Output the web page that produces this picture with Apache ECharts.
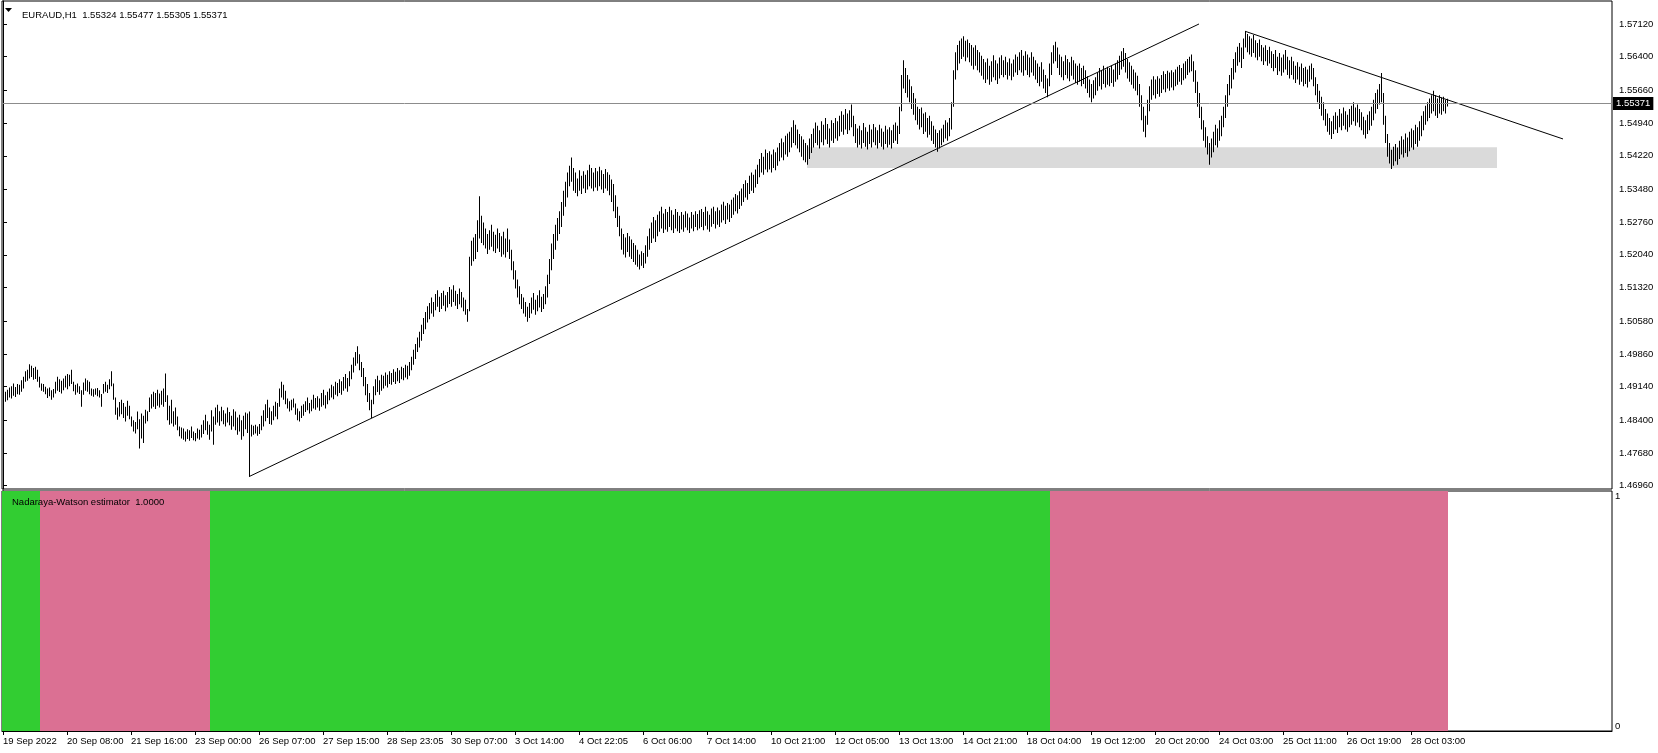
<!DOCTYPE html>
<html><head><meta charset="utf-8">
<script src="https://cdn.jsdelivr.net/npm/echarts@6/dist/echarts.min.js"></script>
<style>html,body{margin:0;padding:0;background:#fff}#c{width:1658px;height:753px}</style>
</head><body><div id="c"></div>
<script>
const symbolTitle = 'EURAUD,H1  1.55324 1.55477 1.55305 1.55371';
const indicatorTitle = 'Nadaraya-Watson estimator  1.0000';
const lastPrice = 1.55371;
const priceTicks = [1.57120,1.56400,1.55660,1.54940,1.54220,1.53480,1.52760,1.52040,1.51320,1.50580,1.49860,1.49140,1.48400,1.47680,1.46960];
const priceTickLabels = ['1.57120','1.56400','1.55660','1.54940','1.54220','1.53480','1.52760','1.52040','1.51320','1.50580','1.49860','1.49140','1.48400','1.47680','1.46960'];
const timeTickIndex = [0,32,64,96,128,160,192,224,256,288,320,352,384,416,448,480,512,544,576,608,640,672,704];
const timeTickLabels = ['19 Sep 2022','20 Sep 08:00','21 Sep 16:00','23 Sep 00:00','26 Sep 07:00','27 Sep 15:00','28 Sep 23:05','30 Sep 07:00','3 Oct 14:00','4 Oct 22:05','6 Oct 06:00','7 Oct 14:00','10 Oct 21:00','12 Oct 05:00','13 Oct 13:00','14 Oct 21:00','18 Oct 04:00','19 Oct 12:00','20 Oct 20:00','24 Oct 03:00','25 Oct 11:00','26 Oct 19:00','28 Oct 03:00'];

const barLow = [
1.4885,1.4881,1.4884,1.4890,1.4888,1.4894,1.4891,1.4897,1.4896,1.4903,
1.4910,1.4925,1.4927,1.4932,1.4935,1.4929,1.4931,1.4925,1.4912,1.4905,
1.4903,1.4897,1.4889,1.4893,1.4885,1.4890,1.4899,1.4905,1.4902,1.4899,
1.4906,1.4912,1.4908,1.4915,1.4920,1.4904,1.4896,1.4901,1.4898,1.4870,
1.4896,1.4905,1.4903,1.4897,1.4894,1.4892,1.4896,1.4893,1.4890,1.4870,
1.4899,1.4903,1.4900,1.4908,1.4915,1.4885,1.4852,1.4841,1.4848,1.4853,
1.4845,1.4837,1.4850,1.4842,1.4826,1.4815,1.4811,1.4820,1.4778,1.4800,
1.4790,1.4833,1.4838,1.4858,1.4866,1.4870,1.4865,1.4872,1.4868,1.4874,
1.4870,1.4880,1.4840,1.4830,1.4833,1.4826,1.4830,1.4818,1.4805,1.4800,
1.4797,1.4793,1.4799,1.4795,1.4801,1.4796,1.4794,1.4800,1.4797,1.4802,
1.4810,1.4818,1.4808,1.4797,1.4815,1.4786,1.4830,1.4835,1.4828,1.4838,
1.4831,1.4826,1.4835,1.4829,1.4819,1.4826,1.4818,1.4808,1.4815,1.4797,
1.4805,1.4820,1.4812,1.4716,1.4804,1.4808,1.4811,1.4806,1.4810,1.4818,
1.4826,1.4838,1.4845,1.4832,1.4830,1.4840,1.4848,1.4842,1.4870,1.4890,
1.4885,1.4875,1.4866,1.4859,1.4862,1.4868,1.4852,1.4840,1.4837,1.4845,
1.4850,1.4858,1.4862,1.4855,1.4860,1.4866,1.4863,1.4868,1.4861,1.4870,
1.4873,1.4866,1.4875,1.4884,1.4890,1.4886,1.4896,1.4893,1.4900,1.4896,
1.4905,1.4910,1.4903,1.4915,1.4930,1.4945,1.4960,1.4965,1.4950,1.4935,
1.4915,1.4895,1.4880,1.4862,1.4845,1.4875,1.4895,1.4902,1.4896,1.4905,
1.4910,1.4916,1.4912,1.4920,1.4918,1.4924,1.4920,1.4926,1.4922,1.4930,
1.4928,1.4934,1.4930,1.4938,1.4950,1.4962,1.4975,1.4990,1.5000,1.5015,
1.5030,1.5040,1.5055,1.5062,1.5075,1.5068,1.5082,1.5090,1.5078,1.5085,
1.5092,1.5080,1.5088,1.5096,1.5090,1.5100,1.5092,1.5085,1.5095,1.5088,
1.5080,1.5072,1.5057,1.5080,1.5180,1.5190,1.5195,1.5210,1.5240,1.5230,
1.5225,1.5218,1.5206,1.5215,1.5222,1.5212,1.5208,1.5218,1.5210,1.5200,
1.5205,1.5198,1.5210,1.5195,1.5170,1.5150,1.5130,1.5110,1.5095,1.5085,
1.5075,1.5068,1.5057,1.5065,1.5075,1.5083,1.5072,1.5080,1.5088,1.5078,
1.5085,1.5095,1.5110,1.5140,1.5170,1.5195,1.5215,1.5235,1.5250,1.5265,
1.5290,1.5310,1.5330,1.5355,1.5365,1.5345,1.5340,1.5333,1.5345,1.5338,
1.5350,1.5340,1.5348,1.5355,1.5350,1.5344,1.5352,1.5345,1.5355,1.5348,
1.5340,1.5350,1.5345,1.5335,1.5320,1.5300,1.5285,1.5265,1.5245,1.5215,
1.5205,1.5198,1.5210,1.5200,1.5195,1.5188,1.5182,1.5178,1.5172,1.5180,
1.5175,1.5185,1.5200,1.5215,1.5230,1.5240,1.5232,1.5245,1.5255,1.5262,
1.5252,1.5260,1.5255,1.5265,1.5258,1.5252,1.5262,1.5256,1.5252,1.5260,
1.5255,1.5264,1.5258,1.5252,1.5262,1.5256,1.5265,1.5258,1.5262,1.5265,
1.5258,1.5268,1.5260,1.5255,1.5266,1.5272,1.5262,1.5270,1.5265,1.5275,
1.5280,1.5272,1.5282,1.5276,1.5285,1.5292,1.5300,1.5295,1.5305,1.5312,
1.5320,1.5330,1.5325,1.5338,1.5345,1.5340,1.5352,1.5360,1.5375,1.5385,
1.5380,1.5392,1.5386,1.5392,1.5385,1.5395,1.5390,1.5400,1.5410,1.5418,
1.5412,1.5425,1.5420,1.5430,1.5440,1.5450,1.5445,1.5438,1.5430,1.5420,
1.5412,1.5408,1.5402,1.5415,1.5428,1.5440,1.5450,1.5445,1.5438,1.5452,
1.5445,1.5458,1.5448,1.5440,1.5455,1.5450,1.5460,1.5455,1.5465,1.5475,
1.5468,1.5480,1.5470,1.5478,1.5485,1.5465,1.5450,1.5440,1.5446,1.5438,
1.5450,1.5442,1.5436,1.5448,1.5440,1.5452,1.5445,1.5438,1.5450,1.5442,
1.5436,1.5448,1.5440,1.5446,1.5438,1.5450,1.5455,1.5448,1.5470,1.5520,
1.5570,1.5560,1.5550,1.5540,1.5525,1.5512,1.5500,1.5490,1.5480,1.5485,
1.5470,1.5475,1.5462,1.5468,1.5455,1.5448,1.5440,1.5431,1.5438,1.5445,
1.5452,1.5460,1.5455,1.5465,1.5480,1.5530,1.5590,1.5610,1.5625,1.5635,
1.5640,1.5630,1.5638,1.5628,1.5620,1.5612,1.5620,1.5610,1.5605,1.5598,
1.5590,1.5582,1.5590,1.5578,1.5585,1.5595,1.5588,1.5580,1.5592,1.5600,
1.5595,1.5600,1.5590,1.5598,1.5588,1.5596,1.5605,1.5600,1.5610,1.5605,
1.5598,1.5610,1.5600,1.5595,1.5605,1.5598,1.5590,1.5582,1.5575,1.5585,
1.5570,1.5560,1.5551,1.5575,1.5600,1.5625,1.5630,1.5615,1.5600,1.5595,
1.5588,1.5600,1.5592,1.5586,1.5598,1.5590,1.5582,1.5578,1.5585,1.5575,
1.5580,1.5570,1.5560,1.5550,1.5540,1.5548,1.5555,1.5565,1.5575,1.5568,
1.5580,1.5572,1.5578,1.5575,1.5582,1.5574,1.5585,1.5590,1.5600,1.5612,
1.5618,1.5605,1.5592,1.5585,1.5578,1.5570,1.5565,1.5555,1.5530,1.5500,
1.5475,1.5463,1.5490,1.5520,1.5545,1.5555,1.5548,1.5558,1.5552,1.5560,
1.5568,1.5562,1.5570,1.5565,1.5572,1.5566,1.5575,1.5578,1.5585,1.5578,
1.5588,1.5592,1.5600,1.5605,1.5608,1.5585,1.5560,1.5530,1.5505,1.5480,
1.5455,1.5440,1.5425,1.5402,1.5418,1.5430,1.5445,1.5440,1.5455,1.5465,
1.5485,1.5505,1.5530,1.5555,1.5570,1.5590,1.5605,1.5620,1.5628,1.5615,
1.5635,1.5660,1.5650,1.5645,1.5640,1.5648,1.5638,1.5632,1.5640,1.5630,
1.5622,1.5630,1.5620,1.5625,1.5615,1.5608,1.5615,1.5600,1.5608,1.5598,
1.5605,1.5612,1.5600,1.5592,1.5600,1.5590,1.5582,1.5590,1.5578,1.5585,
1.5575,1.5580,1.5572,1.5585,1.5590,1.5575,1.5555,1.5540,1.5525,1.5510,
1.5500,1.5488,1.5475,1.5468,1.5459,1.5470,1.5480,1.5472,1.5485,1.5478,
1.5488,1.5480,1.5475,1.5485,1.5490,1.5498,1.5488,1.5495,1.5485,1.5478,
1.5468,1.5460,1.5470,1.5478,1.5488,1.5500,1.5515,1.5525,1.5535,1.5540,
1.5490,1.5450,1.5420,1.5405,1.5393,1.5400,1.5410,1.5402,1.5415,1.5425,
1.5418,1.5428,1.5420,1.5432,1.5440,1.5435,1.5448,1.5442,1.5455,1.5465,
1.5478,1.5490,1.5498,1.5505,1.5515,1.5520,1.5510,1.5505,1.5515,1.5512,
1.5520,1.5515,1.55305
];
const barHigh = [
1.4906,1.4903,1.4907,1.4912,1.4915,1.4921,1.4913,1.4920,1.4918,1.4928,
1.4936,1.4948,1.4951,1.4963,1.4960,1.4955,1.4958,1.4951,1.4936,1.4921,
1.4920,1.4914,1.4910,1.4912,1.4906,1.4909,1.4925,1.4936,1.4930,1.4927,
1.4932,1.4938,1.4942,1.4940,1.4951,1.4925,1.4918,1.4921,1.4915,1.4906,
1.4923,1.4932,1.4928,1.4925,1.4910,1.4908,1.4910,1.4911,1.4906,1.4898,
1.4920,1.4925,1.4918,1.4930,1.4948,1.4921,1.4890,1.4868,1.4880,1.4885,
1.4878,1.4870,1.4883,1.4872,1.4848,1.4840,1.4836,1.4859,1.4842,1.4855,
1.4850,1.4863,1.4860,1.4890,1.4897,1.4903,1.4900,1.4907,1.4899,1.4905,
1.4910,1.4943,1.4895,1.4872,1.4885,1.4860,1.4868,1.4848,1.4826,1.4824,
1.4822,1.4815,1.4820,1.4818,1.4826,1.4815,1.4812,1.4822,1.4819,1.4830,
1.4840,1.4852,1.4838,1.4830,1.4862,1.4848,1.4868,1.4874,1.4860,1.4870,
1.4862,1.4855,1.4868,1.4858,1.4850,1.4864,1.4859,1.4846,1.4852,1.4840,
1.4850,1.4857,1.4855,1.4859,1.4830,1.4828,1.4830,1.4826,1.4832,1.4850,
1.4862,1.4875,1.4885,1.4868,1.4860,1.4872,1.4881,1.4878,1.4910,1.4925,
1.4918,1.4905,1.4888,1.4882,1.4885,1.4888,1.4877,1.4866,1.4860,1.4872,
1.4875,1.4882,1.4890,1.4878,1.4885,1.4896,1.4889,1.4893,1.4888,1.4900,
1.4907,1.4895,1.4903,1.4910,1.4918,1.4915,1.4925,1.4922,1.4930,1.4926,
1.4935,1.4942,1.4933,1.4948,1.4962,1.4978,1.4990,1.5003,1.4985,1.4968,
1.4955,1.4935,1.4920,1.4900,1.4885,1.4915,1.4930,1.4938,1.4928,1.4940,
1.4938,1.4945,1.4940,1.4948,1.4944,1.4952,1.4947,1.4955,1.4950,1.4958,
1.4955,1.4962,1.4960,1.4968,1.4980,1.4995,1.5008,1.5022,1.5035,1.5050,
1.5065,1.5078,1.5091,1.5098,1.5110,1.5100,1.5118,1.5126,1.5112,1.5120,
1.5125,1.5115,1.5122,1.5133,1.5128,1.5137,1.5125,1.5118,1.5130,1.5122,
1.5110,1.5105,1.5085,1.5200,1.5235,1.5242,1.5250,1.5280,1.5333,1.5290,
1.5275,1.5262,1.5250,1.5258,1.5270,1.5255,1.5248,1.5262,1.5252,1.5245,
1.5255,1.5240,1.5262,1.5238,1.5215,1.5190,1.5170,1.5150,1.5135,1.5118,
1.5110,1.5100,1.5090,1.5098,1.5110,1.5120,1.5105,1.5115,1.5126,1.5112,
1.5118,1.5135,1.5160,1.5195,1.5229,1.5250,1.5270,1.5285,1.5300,1.5320,
1.5345,1.5365,1.5385,1.5400,1.5418,1.5395,1.5385,1.5372,1.5390,1.5378,
1.5388,1.5380,1.5390,1.5402,1.5395,1.5385,1.5395,1.5388,1.5398,1.5390,
1.5382,1.5393,1.5386,1.5380,1.5370,1.5360,1.5335,1.5310,1.5290,1.5262,
1.5250,1.5242,1.5252,1.5245,1.5238,1.5230,1.5225,1.5215,1.5205,1.5212,
1.5208,1.5225,1.5245,1.5262,1.5275,1.5287,1.5280,1.5292,1.5300,1.5310,
1.5295,1.5305,1.5298,1.5310,1.5302,1.5292,1.5305,1.5298,1.5290,1.5298,
1.5292,1.5300,1.5295,1.5286,1.5298,1.5292,1.5300,1.5294,1.5302,1.5305,
1.5298,1.5310,1.5300,1.5292,1.5306,1.5310,1.5300,1.5308,1.5302,1.5315,
1.5321,1.5312,1.5318,1.5315,1.5325,1.5330,1.5338,1.5335,1.5344,1.5350,
1.5360,1.5368,1.5362,1.5378,1.5385,1.5380,1.5392,1.5402,1.5415,1.5428,
1.5420,1.5436,1.5428,1.5432,1.5425,1.5436,1.5430,1.5440,1.5450,1.5460,
1.5452,1.5466,1.5471,1.5475,1.5485,1.5500,1.5490,1.5480,1.5470,1.5465,
1.5458,1.5450,1.5445,1.5460,1.5470,1.5482,1.5495,1.5488,1.5478,1.5498,
1.5490,1.5505,1.5492,1.5482,1.5500,1.5494,1.5505,1.5498,1.5510,1.5520,
1.5512,1.5525,1.5515,1.5522,1.5535,1.5510,1.5492,1.5482,1.5488,1.5478,
1.5494,1.5485,1.5475,1.5490,1.5480,1.5492,1.5485,1.5478,1.5490,1.5482,
1.5475,1.5488,1.5480,1.5485,1.5478,1.5490,1.5495,1.5488,1.5530,1.5600,
1.5632,1.5615,1.5600,1.5590,1.5575,1.5560,1.5548,1.5530,1.5525,1.5528,
1.5515,1.5518,1.5505,1.5510,1.5498,1.5488,1.5480,1.5472,1.5478,1.5482,
1.5490,1.5500,1.5495,1.5505,1.5540,1.5610,1.5650,1.5666,1.5675,1.5680,
1.5685,1.5675,1.5678,1.5670,1.5666,1.5660,1.5665,1.5655,1.5650,1.5642,
1.5635,1.5628,1.5636,1.5620,1.5630,1.5643,1.5632,1.5625,1.5638,1.5643,
1.5632,1.5640,1.5628,1.5636,1.5625,1.5634,1.5645,1.5640,1.5650,1.5655,
1.5642,1.5652,1.5645,1.5638,1.5650,1.5640,1.5632,1.5625,1.5618,1.5628,
1.5612,1.5600,1.5592,1.5625,1.5650,1.5665,1.5673,1.5660,1.5645,1.5640,
1.5630,1.5643,1.5635,1.5628,1.5640,1.5632,1.5625,1.5620,1.5625,1.5615,
1.5620,1.5610,1.5597,1.5590,1.5580,1.5588,1.5595,1.5605,1.5615,1.5610,
1.5620,1.5612,1.5618,1.5615,1.5620,1.5612,1.5625,1.5632,1.5642,1.5652,
1.5659,1.5648,1.5635,1.5628,1.5620,1.5612,1.5605,1.5598,1.5580,1.5555,
1.5530,1.5510,1.5545,1.5575,1.5590,1.5597,1.5590,1.5597,1.5592,1.5600,
1.5608,1.5602,1.5609,1.5605,1.5610,1.5606,1.5612,1.5618,1.5622,1.5615,
1.5625,1.5630,1.5635,1.5640,1.5645,1.5630,1.5610,1.5585,1.5560,1.5530,
1.5500,1.5485,1.5465,1.5450,1.5460,1.5475,1.5490,1.5482,1.5500,1.5510,
1.5530,1.5555,1.5580,1.5600,1.5615,1.5635,1.5650,1.5662,1.5670,1.5660,
1.5680,1.5696,1.5690,1.5685,1.5680,1.5688,1.5676,1.5670,1.5678,1.5666,
1.5660,1.5665,1.5655,1.5662,1.5652,1.5646,1.5655,1.5640,1.5648,1.5638,
1.5645,1.5655,1.5640,1.5632,1.5640,1.5630,1.5620,1.5628,1.5618,1.5625,
1.5615,1.5618,1.5612,1.5620,1.5625,1.5615,1.5595,1.5580,1.5565,1.5552,
1.5540,1.5525,1.5515,1.5505,1.5498,1.5510,1.5518,1.5510,1.5525,1.5515,
1.5528,1.5520,1.5512,1.5525,1.5532,1.5540,1.5528,1.5535,1.5525,1.5518,
1.5508,1.5500,1.5512,1.5520,1.5530,1.5545,1.5560,1.5568,1.5580,1.5604,
1.5560,1.5510,1.5470,1.5450,1.5435,1.5442,1.5448,1.5440,1.5455,1.5465,
1.5458,1.5471,1.5462,1.5475,1.5482,1.5478,1.5490,1.5485,1.5498,1.5510,
1.5520,1.5532,1.5540,1.5548,1.5555,1.5565,1.5555,1.5548,1.5555,1.5550,
1.5552,1.5545,1.55477
];
// Nadaraya-Watson estimator state runs: [firstBar, lastBar, value, direction]
const nweRuns = [[0,18,1,'up'],[19,103,1,'down'],[104,523,1,'up'],[524,722,1,'down']];
const trendUp = [[123,1.4716],[598,1.5712]];
const trendDown = [[621,1.5696],[780,1.5459]];
const supportZone = [[402,1.5441],[747,1.5395]];

const FONT = 'Liberation Sans';
const FS = 9.5;
const chart = echarts.init(document.getElementById('c'), null, {renderer:'canvas'});
const barsData = barLow.map((l,i)=>[i,l,barHigh[i]]);
const runData = nweRuns.map(r=>[r[0],r[1],r[2],r[3]==='up'?1:0]);

chart.setOption({
  animation:false,
  backgroundColor:'#fff',
  title:[
    {text:symbolTitle,left:17,top:5,textStyle:{fontFamily:FONT,fontSize:FS,fontWeight:'normal',color:'#000'}},
    {text:indicatorTitle,left:7,top:492,textStyle:{fontFamily:FONT,fontSize:FS,fontWeight:'normal',color:'#000'}}
  ],
  graphic:[{type:'polygon',shape:{points:[[5,8],[12,8],[8.5,12]]},style:{fill:'#000'}}],
  grid:[
    {left:2,top:1,width:1610,height:488,show:true,borderColor:'#000',borderWidth:1,backgroundColor:'transparent'},
    {left:2,top:491,width:1610,height:240,show:true,borderColor:'#000',borderWidth:1,backgroundColor:'transparent'}
  ],
  xAxis:[
    {gridIndex:0,type:'value',min:-0.5,max:804.5,show:false},
    {gridIndex:1,type:'value',min:-0.5,max:804.5,
     axisLine:{show:true,lineStyle:{color:'#000'}},
     axisTick:{show:true,length:4,customValues:timeTickIndex,lineStyle:{color:'#000'}},
     axisLabel:{customValues:timeTickIndex,align:'left',margin:5,
       fontFamily:FONT,fontSize:FS,color:'#000',
       formatter:v=>{const k=timeTickIndex.indexOf(Math.round(v));return k>=0?timeTickLabels[k]:'';}},
     splitLine:{show:false}}
  ],
  yAxis:[
    {gridIndex:0,type:'value',position:'right',min:1.468874,max:1.576256,
     axisLine:{show:true,lineStyle:{color:'#000'}},
     axisTick:{show:true,length:4,customValues:priceTicks,lineStyle:{color:'#000'}},
     axisLabel:{customValues:priceTicks,margin:7,fontFamily:FONT,fontSize:FS,color:'#000',
       formatter:v=>{const s=v.toFixed(5);const k=priceTickLabels.indexOf(s);return k>=0?priceTickLabels[k]:s;}},
     splitLine:{show:false}},
    {gridIndex:1,type:'value',position:'right',min:0,max:1,
     axisLine:{show:true,lineStyle:{color:'#000'}},
     axisTick:{show:false},
     axisLabel:{customValues:[0,1],margin:3,fontFamily:FONT,fontSize:FS,color:'#000',
       verticalAlignMinLabel:'bottom',verticalAlignMaxLabel:'top',
       formatter:v=>String(v)},
     splitLine:{show:false}}
  ],
  series:[
    {type:'line',xAxisIndex:0,yAxisIndex:0,data:trendUp,showSymbol:false,z:1,
     lineStyle:{color:'#000',width:1},silent:true,
     markArea:{silent:true,itemStyle:{color:'#DADADA'},
       data:[[{xAxis:supportZone[0][0],yAxis:supportZone[0][1]},{xAxis:supportZone[1][0],yAxis:supportZone[1][1]}]]}},
    {type:'custom',xAxisIndex:0,yAxisIndex:0,data:barsData,z:2,clip:true,
     encode:{x:0,y:[1,2]},
     renderItem:(params,api)=>{
       const i=api.value(0);
       const ph=api.coord([i,api.value(2)]);
       const pl=api.coord([i,api.value(1)]);
       return {type:'rect',shape:{x:Math.round(ph[0]),y:ph[1],width:1,height:Math.max(1,pl[1]-ph[1])},style:{fill:'#000'}};
     }},
    {type:'line',xAxisIndex:0,yAxisIndex:0,data:trendDown,showSymbol:false,z:3,
     lineStyle:{color:'#000',width:1},silent:true,
     markLine:{silent:true,symbol:'none',precision:5,
       lineStyle:{color:'#8C8C8C',type:'solid',width:1},
       label:{show:true,position:'end',distance:1,formatter:()=>lastPrice.toFixed(5),
         backgroundColor:'#000',color:'#fff',fontFamily:FONT,fontSize:FS,padding:[2,3,1,3]},
       data:[{yAxis:lastPrice}]}},
    {type:'custom',xAxisIndex:1,yAxisIndex:1,data:runData,z:2,
     encode:{x:[0,1],y:2},
     renderItem:(params,api)=>{
       const a=api.coord([api.value(0)-0.5,api.value(2)]);
       const b=api.coord([api.value(1)+0.5,0]);
       return {type:'rect',shape:{x:a[0],y:a[1],width:b[0]-a[0],height:b[1]-a[1]},
         style:{fill:api.value(3)===1?'#32CD32':'#DB7093'}};
     }}
  ]
});
</script></body></html>
